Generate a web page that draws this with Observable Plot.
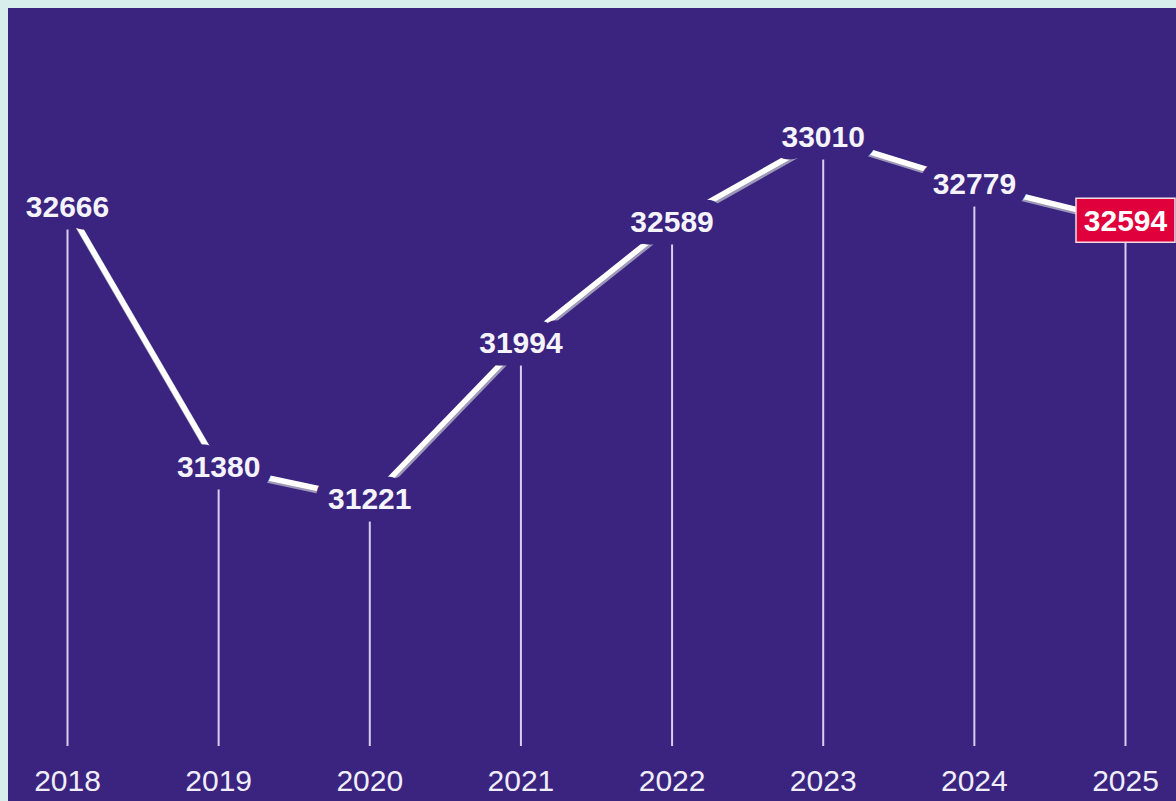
<!DOCTYPE html>
<html>
<head>
<meta charset="utf-8">
<script src="https://cdn.jsdelivr.net/npm/d3@7"></script>
<script src="https://cdn.jsdelivr.net/npm/@observablehq/plot@0.6"></script>
<style>
  html, body { margin: 0; padding: 0; overflow: hidden; background: #d8eeec; width: 1176px; height: 801px; }
  #chart { position: absolute; left: 8px; top: 8px; width: 1168px; height: 793px; background: #3a2480; }
  #chart svg { display: block; }
</style>
</head>
<body>
<div id="chart"></div>
<script>
// ---- data ----
const years = [2018, 2019, 2020, 2021, 2022, 2023, 2024, 2025];
const values = [32666, 31380, 31221, 31994, 32589, 33010, 32779, 32594];
const yearLabels = ["2018", "2019", "2020", "2021", "2022", "2023", "2024", "2025"];
const highlightYear = 2025;
const yBase = 30000;

const data = years.map((year, i) => ({ year, value: values[i], label: yearLabels[i] }));
const normal = data.filter(d => d.year !== highlightYear);
const highlight = data.filter(d => d.year === highlightYear);

const bg = "#3a2480";
const boxSymbol = {
  draw(ctx) {
    const w = 99, h = 44;
    ctx.moveTo(-w / 2, -h / 2 - 1.5);
    ctx.lineTo(w / 2, -h / 2 - 1.5);
    ctx.lineTo(w / 2, h / 2 - 1.5);
    ctx.lineTo(-w / 2, h / 2 - 1.5);
    ctx.closePath();
  }
};

const chart = Plot.plot({
  width: 1168,
  height: 793,
  marginTop: 129,
  marginBottom: 55,
  marginLeft: 59,
  marginRight: 51,
  style: { background: "transparent", fontFamily: "'Liberation Sans', Arial, sans-serif" },
  x: { type: "linear", domain: [years[0], years[years.length - 1]], axis: null },
  y: { type: "linear", domain: [yBase, Math.max(...values)], axis: null },
  marks: [
    Plot.ruleX(data, { x: "year", y1: "value", y2: yBase, stroke: "#d6cff0", strokeWidth: 2 }),
    Plot.line(data, { x: "year", y: "value", stroke: "#9d97b8", strokeWidth: 6.5, dx: 1, dy: 2 }),
    Plot.line(data, { x: "year", y: "value", stroke: "#ffffff", strokeWidth: 5.5 }),
    Plot.text(normal, {
      x: "year", y: "value", text: d => String(d.value),
      fill: "#f5f3fb", stroke: bg, strokeWidth: 25, strokeLinejoin: "round", paintOrder: "stroke",
      fontSize: 30, fontWeight: "bold", lineAnchor: "middle"
    }),
    Plot.dot(highlight, {
      x: "year", y: "value", symbol: boxSymbol, r: 10,
      fill: "#e0003c", stroke: "#f4dce3", strokeWidth: 1.5
    }),
    Plot.text(highlight, {
      x: "year", y: "value", text: d => String(d.value),
      fill: "#ffffff", fontSize: 30, fontWeight: "bold", lineAnchor: "middle"
    }),
    Plot.text(data, {
      x: "year", text: "label", frameAnchor: "bottom", dy: 35,
      fill: "#f0eef8", fontSize: 30, lineAnchor: "middle"
    })
  ]
});
document.getElementById("chart").appendChild(chart);
</script>
</body>
</html>
